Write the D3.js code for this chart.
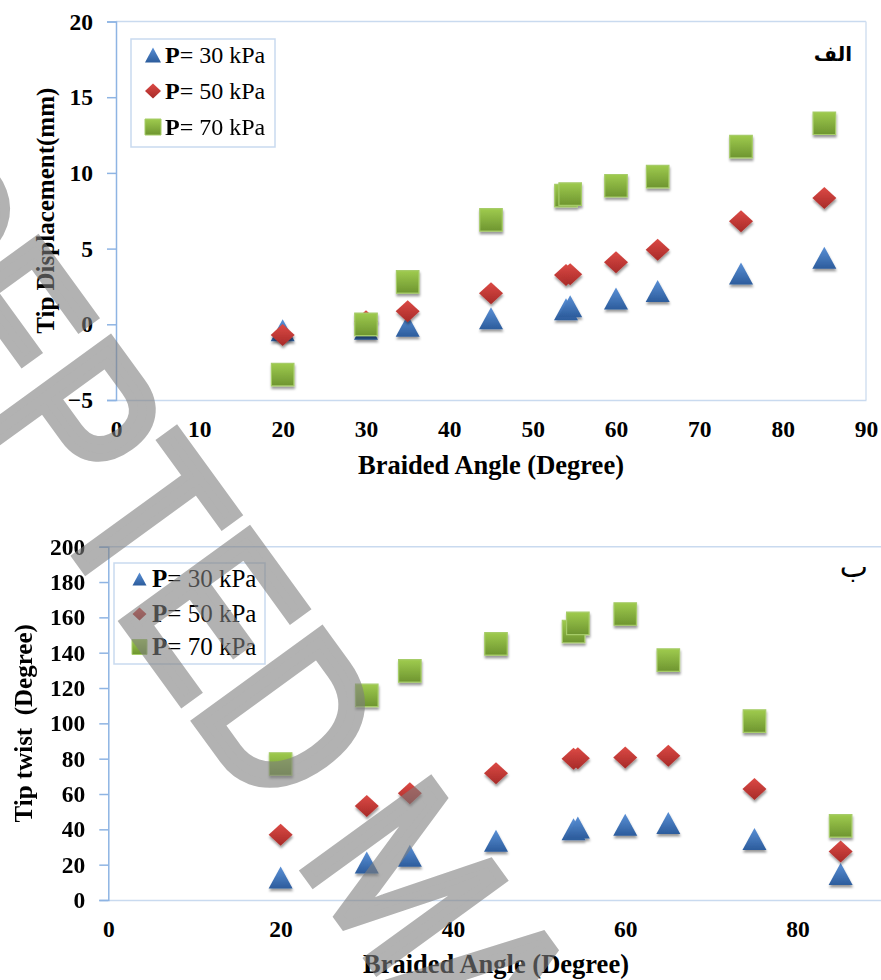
<!DOCTYPE html>
<html><head><meta charset="utf-8">
<script src="https://cdn.jsdelivr.net/npm/d3@7"></script>
<style>
body{margin:0;background:#fff}svg{display:block}
.serif{font-family:"Liberation Serif","Times New Roman",Times,"DejaVu Serif",serif}
</style>
</head><body><svg id="c" width="881" height="980"></svg>
<script>
// ---------- data ----------
const angles = [20, 30, 35, 45, 54, 54.5, 60, 65, 75, 85];
const seriesNames = ["30 kPa", "50 kPa", "70 kPa"];
const dispP30 = [-0.4, -0.3, -0.1, 0.4, 1.0, 1.2, 1.7, 2.2, 3.35, 4.4];
const dispP50 = [-0.7, 0.2, 0.86, 2.05, 3.25, 3.3, 4.1, 4.93, 6.8, 8.34];
const dispP70 = [-3.32, 0.0, 2.8, 6.9, 8.5, 8.6, 9.15, 9.76, 11.74, 13.28];
const twistP30 = [12.7, 21.2, 25, 33.5, 40, 41, 42.6, 43.6, 34.6, 14.7];
const twistP50 = [37, 53.2, 60.4, 71.7, 80, 80.2, 80.7, 81.7, 62.8, 27.4];
const twistP70 = [77, 115.8, 129.7, 145, 152, 156.6, 161.9, 135.8, 101.3, 42];
const dispTicksY = [-5, 0, 5, 10, 15, 20];
const dispTicksX = [0, 10, 20, 30, 40, 50, 60, 70, 80, 90];
const twistTicksY = [0, 20, 40, 60, 80, 100, 120, 140, 160, 180, 200];
const twistTicksX = [0, 20, 40, 60, 80];
const xTitle = "Braided Angle (Degree)";
const dispTitle = "Tip Displacement(mm)";
const twistTitle = "Tip twist  (Degree)";
const panelA = "الف";
const panelB = "ب";
const watermark = "ACCEPTED MANUSCRIPT";

// ---------- setup ----------
const svg = d3.select("#c");
const defs = svg.append("defs");
function grad(id, top, bottom) {
  const g = defs.append("linearGradient").attr("id", id).attr("x1", 0).attr("y1", 0).attr("x2", 0).attr("y2", 1);
  g.append("stop").attr("offset", "0%").attr("stop-color", top);
  g.append("stop").attr("offset", "100%").attr("stop-color", bottom);
}
grad("gBlue", "#5a90d6", "#2c5c9c");
grad("gRed", "#dc4a45", "#a72a28");
grad("gGreen", "#9fcb4e", "#6e9530");
const f = defs.append("filter").attr("id", "sh").attr("x", "-30%").attr("y", "-30%").attr("width", "160%").attr("height", "170%");
f.append("feDropShadow").attr("dx", 0.5).attr("dy", 2.5).attr("stdDeviation", 1.3)
  .attr("flood-color", "#000").attr("flood-opacity", 0.4);

const styles = [
  {shape: "tri", fill: "url(#gBlue)", stroke: "none"},
  {shape: "dia", fill: "url(#gRed)", stroke: "none"},
  {shape: "sq", fill: "url(#gGreen)", stroke: "#a6cc68"}
];
function shapePath(shape, w, h) {
  if (shape === "tri") return `M0,${-h/2}L${w/2},${h/2}L${-w/2},${h/2}Z`;
  if (shape === "dia") return `M0,${-h/2}L${w/2},0L0,${h/2}L${-w/2},0Z`;
  return `M${-w/2},${-h/2}H${w/2}V${h/2}H${-w/2}Z`;
}
const markerSize = {tri: [24, 22], dia: [24, 22], sq: [22.5, 22.5]};

function panel(cfg) {
  const x = d3.scaleLinear().domain(cfg.xDomain).range([cfg.left, cfg.right]);
  const y = d3.scaleLinear().domain(cfg.yDomain).range([cfg.bottom, cfg.top]);
  const g = svg.append("g");
  g.append("line").attr("x1", cfg.left).attr("x2", cfg.right).attr("y1", cfg.top).attr("y2", cfg.top)
    .attr("stroke", "#c9daef").attr("stroke-width", 1.5);
  if (cfg.right < 881)
    g.append("line").attr("x1", cfg.right).attr("x2", cfg.right).attr("y1", cfg.top).attr("y2", cfg.bottom)
      .attr("stroke", "#d3e0f1").attr("stroke-width", 1.5);
  const xa = g.append("g").attr("transform", `translate(0,${cfg.bottom})`)
    .call(d3.axisBottom(x).tickValues(cfg.xTicks).tickSize(0).tickPadding(20.5).tickFormat(d3.format("d")));
  xa.attr("font-family", null).attr("font-size", null);
  xa.select(".domain").attr("stroke", "#c9daef").attr("stroke-width", 1.5);
  xa.selectAll("text").attr("class", "serif").style("font-weight", "bold").style("font-size", "23.5px").attr("fill", "#000");
  const ya = g.append("g").attr("transform", `translate(${cfg.left},0)`)
    .call(d3.axisLeft(y).tickValues(cfg.yTicks).tickSize(9).tickPadding(14).tickFormat(d3.format("d")));
  ya.attr("font-family", null).attr("font-size", null);
  ya.select(".domain").attr("stroke", "#8eb4e3").attr("stroke-width", 1.5);
  ya.selectAll(".tick line").attr("stroke", "#8eb4e3").attr("stroke-width", 1.5);
  ya.selectAll("text").attr("class", "serif").style("font-weight", "bold").style("font-size", "23.5px").attr("fill", "#000");
  g.append("text").attr("class", "serif").attr("x", (cfg.left + cfg.right) / 2).attr("y", cfg.xTitleY).attr("text-anchor", "middle")
    .style("font-weight", "bold").style("font-size", "26.5px").text(xTitle);
  g.append("text").attr("class", "serif").attr("transform", `translate(${cfg.yTitleX},${(cfg.top + cfg.bottom) / 2}) rotate(-90)`)
    .attr("text-anchor", "middle").style("font-weight", "bold")
    .style("font-size", "25px").style("white-space", "pre").text(cfg.yTitle);
  g.append("text").attr("x", cfg.labelX).attr("y", cfg.labelY).attr("text-anchor", "end")
    .style("font-family", "'DejaVu Sans',sans-serif").style("font-weight", cfg.labelWeight)
    .style("font-size", cfg.labelSize + "px").text(cfg.label);
  cfg.series.forEach((vals, si) => {
    const st = styles[si];
    const [w, h] = markerSize[st.shape];
    g.append("g").attr("filter", "url(#sh)").selectAll("path").data(angles.map((a, i) => [a, vals[i]]))
      .join("path")
      .attr("transform", d => `translate(${x(d[0])},${y(d[1])})`)
      .attr("d", shapePath(st.shape, w, h))
      .attr("fill", st.fill).attr("stroke", st.stroke).attr("stroke-width", 1.2);
  });
  const L = cfg.legend;
  g.append("rect").attr("x", L.x).attr("y", L.y).attr("width", L.w).attr("height", L.h)
    .attr("fill", "#fff").attr("stroke", "#c9daef").attr("stroke-width", 1.5);
  seriesNames.forEach((name, i) => {
    const st = styles[i];
    const cy = L.rows[i];
    const s = L.msize[st.shape];
    g.append("path").attr("transform", `translate(${L.mx},${cy})`).attr("d", shapePath(st.shape, s[0], s[1]))
      .attr("fill", st.fill).attr("stroke", st.stroke).attr("stroke-width", 1);
    const t = g.append("text").attr("class", "serif").attr("x", L.tx).attr("y", cy + L.fs * 0.33)
      .style("font-size", L.fs + "px").style("white-space", "pre");
    t.append("tspan").style("font-weight", "bold").text("P");
    t.append("tspan").text("= " + name);
  });
}

panel({
  left: 116, right: 866, top: 21.5, bottom: 400,
  xDomain: [0, 90], yDomain: [-5, 20], xTicks: dispTicksX, yTicks: dispTicksY,
  xTitleY: 474, yTitleX: 54, yTitle: dispTitle,
  label: panelA, labelX: 852, labelY: 61, labelWeight: "bold", labelSize: 20,
  series: [dispP30, dispP50, dispP70],
  legend: {x: 131, y: 39, w: 144, h: 108, rows: [55, 91, 127], mx: 153, tx: 165, fs: 24,
           msize: {tri: [16, 15], dia: [16, 15], sq: [16, 16]}}
});
panel({
  left: 108.3, right: 883.7, top: 546.7, bottom: 900,
  xDomain: [0, 90], yDomain: [0, 200], xTicks: twistTicksX, yTicks: twistTicksY,
  xTitleY: 973, yTitleX: 32, yTitle: twistTitle,
  label: panelB, labelX: 868, labelY: 577, labelWeight: "normal", labelSize: 30,
  series: [twistP30, twistP50, twistP70],
  legend: {x: 114, y: 563, w: 151, h: 101, rows: [579, 614, 647], mx: 139.5, tx: 152, fs: 25,
           msize: {tri: [14, 13], dia: [14, 13], sq: [15, 15]}}
});

// ---------- watermark ----------
svg.append("g").attr("opacity", 0.6)
  .append("text").attr("transform", "translate(-326,2) rotate(54) scale(1,1.21)")
  .style("font-family", "'Liberation Sans',Arial,sans-serif").style("font-size", "185px")
  .attr("fill", "#7f7f7f").attr("stroke", "#7f7f7f").attr("stroke-width", 8).attr("stroke-linejoin", "miter")
  .text(watermark);
</script></body></html>
